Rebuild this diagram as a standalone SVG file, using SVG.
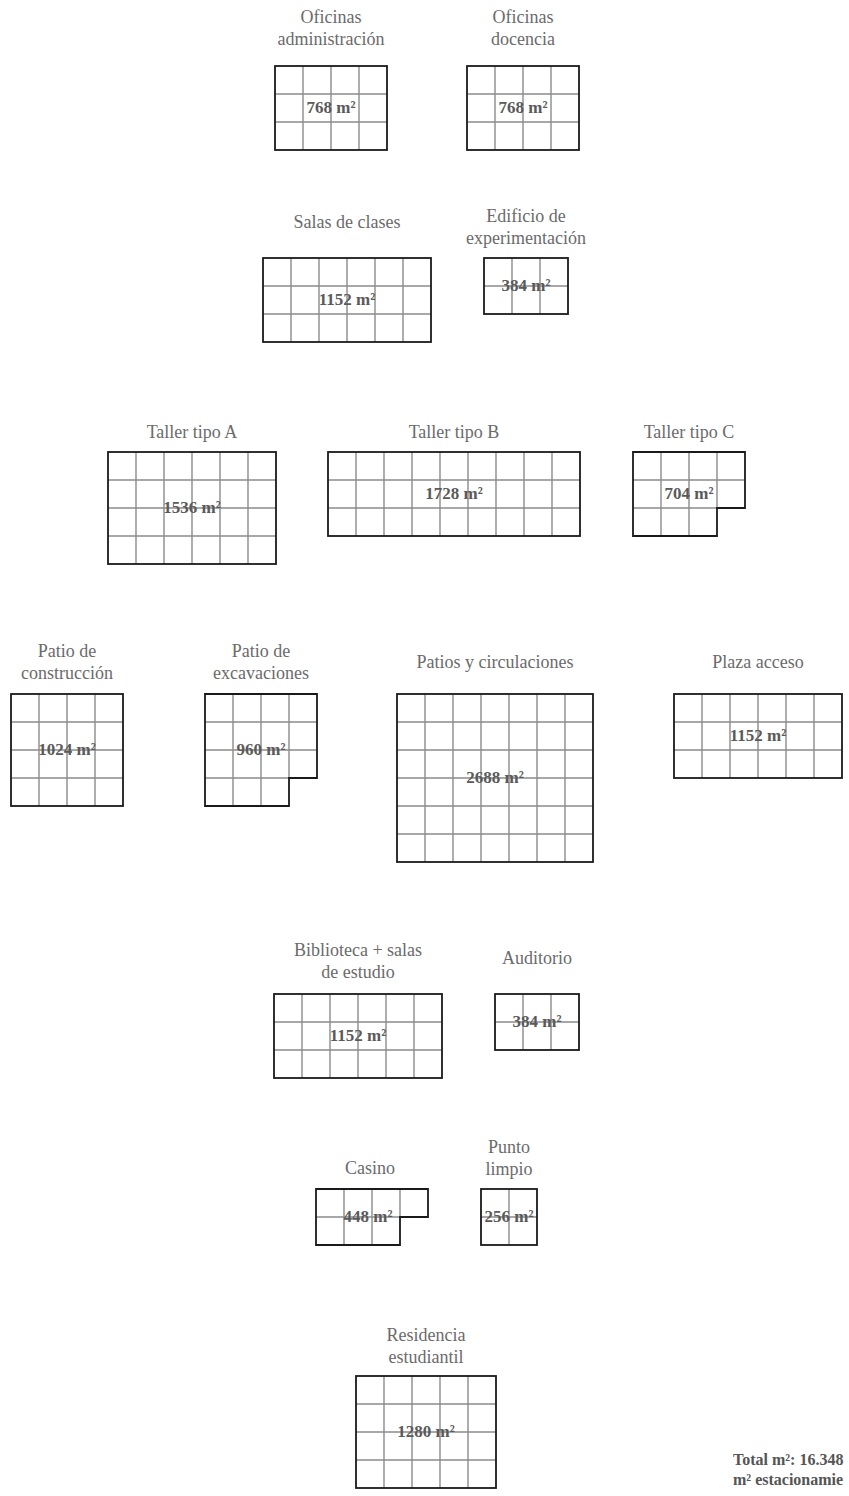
<svg xmlns="http://www.w3.org/2000/svg" width="849" height="1496" viewBox="0 0 849 1496">
<style>
.g{stroke:#8c8c8c;stroke-width:1.4;fill:none}
.o{stroke:#1a1a1a;stroke-width:1.8;fill:none}
.lbl{font-family:"Liberation Serif",serif;font-size:18px;fill:#6b6b6b;text-anchor:middle}
.area{font-family:"Liberation Serif",serif;font-size:17px;font-weight:bold;fill:#5a5a5a;text-anchor:middle}
.tot{font-family:"Liberation Serif",serif;font-size:16px;font-weight:bold;fill:#555}
</style>
<rect width="849" height="1496" fill="#fff"/>
<g id="connectors"></g>

<g id="oficinas-administracion">
<text class="lbl" x="331" y="23">Oficinas</text>
<text class="lbl" x="331" y="45">administración</text>
<path class="g" d="M303 66V150M331 66V150M359 66V150M275 94H387M275 122H387"/>
<rect class="o" x="275" y="66" width="112" height="84"/>
<text class="area" x="331" y="113">768 m²</text>
</g>

<g id="oficinas-docencia">
<text class="lbl" x="523" y="23">Oficinas</text>
<text class="lbl" x="523" y="45">docencia</text>
<path class="g" d="M495 66V150M523 66V150M551 66V150M467 94H579M467 122H579"/>
<rect class="o" x="467" y="66" width="112" height="84"/>
<text class="area" x="523" y="113">768 m²</text>
</g>

<g id="salas-de-clases">
<text class="lbl" x="347" y="228">Salas de clases</text>
<path class="g" d="M291 258V342M319 258V342M347 258V342M375 258V342M403 258V342M263 286H431M263 314H431"/>
<rect class="o" x="263" y="258" width="168" height="84"/>
<text class="area" x="347" y="305">1152 m²</text>
</g>

<g id="edificio-experimentacion">
<text class="lbl" x="526" y="222">Edificio de</text>
<text class="lbl" x="526" y="244">experimentación</text>
<path class="g" d="M512 258V314M540 258V314M484 286H568"/>
<rect class="o" x="484" y="258" width="84" height="56"/>
<text class="area" x="526" y="291">384 m²</text>
</g>

<g id="taller-tipo-a">
<text class="lbl" x="192" y="438">Taller tipo A</text>
<path class="g" d="M136 452V564M164 452V564M192 452V564M220 452V564M248 452V564M108 480H276M108 508H276M108 536H276"/>
<rect class="o" x="108" y="452" width="168" height="112"/>
<text class="area" x="192" y="513">1536 m²</text>
</g>

<g id="taller-tipo-b">
<text class="lbl" x="454" y="438">Taller tipo B</text>
<path class="g" d="M356 452V536M384 452V536M412 452V536M440 452V536M468 452V536M496 452V536M524 452V536M552 452V536M328 480H580M328 508H580"/>
<rect class="o" x="328" y="452" width="252" height="84"/>
<text class="area" x="454" y="499">1728 m²</text>
</g>

<g id="taller-tipo-c">
<text class="lbl" x="689" y="438">Taller tipo C</text>
<path class="g" d="M661 452V536M689 452V536M717 452V508M633 480H745M633 508H717"/>
<polygon class="o" points="633,452 745,452 745,508 717,508 717,536 633,536"/>
<text class="area" x="689" y="499">704 m²</text>
</g>

<g id="patio-construccion">
<text class="lbl" x="67" y="657">Patio de</text>
<text class="lbl" x="67" y="679">construcción</text>
<path class="g" d="M39 694V806M67 694V806M95 694V806M11 722H123M11 750H123M11 778H123"/>
<rect class="o" x="11" y="694" width="112" height="112"/>
<text class="area" x="67" y="755">1024 m²</text>
</g>

<g id="patio-excavaciones">
<text class="lbl" x="261" y="657">Patio de</text>
<text class="lbl" x="261" y="679">excavaciones</text>
<path class="g" d="M233 694V806M261 694V806M289 694V778M205 722H317M205 750H317M205 778H289"/>
<polygon class="o" points="205,694 317,694 317,778 289,778 289,806 205,806"/>
<text class="area" x="261" y="755">960 m²</text>
</g>

<g id="patios-circulaciones">
<text class="lbl" x="495" y="668">Patios y circulaciones</text>
<path class="g" d="M425 694V862M453 694V862M481 694V862M509 694V862M537 694V862M565 694V862M397 722H593M397 750H593M397 778H593M397 806H593M397 834H593"/>
<rect class="o" x="397" y="694" width="196" height="168"/>
<text class="area" x="495" y="783">2688 m²</text>
</g>

<g id="plaza-acceso">
<text class="lbl" x="758" y="668">Plaza acceso</text>
<path class="g" d="M702 694V778M730 694V778M758 694V778M786 694V778M814 694V778M674 722H842M674 750H842"/>
<rect class="o" x="674" y="694" width="168" height="84"/>
<text class="area" x="758" y="741">1152 m²</text>
</g>

<g id="biblioteca">
<text class="lbl" x="358" y="956">Biblioteca + salas</text>
<text class="lbl" x="358" y="978">de estudio</text>
<path class="g" d="M302 994V1078M330 994V1078M358 994V1078M386 994V1078M414 994V1078M274 1022H442M274 1050H442"/>
<rect class="o" x="274" y="994" width="168" height="84"/>
<text class="area" x="358" y="1041">1152 m²</text>
</g>

<g id="auditorio">
<text class="lbl" x="537" y="964">Auditorio</text>
<path class="g" d="M523 994V1050M551 994V1050M495 1022H579"/>
<rect class="o" x="495" y="994" width="84" height="56"/>
<text class="area" x="537" y="1027">384 m²</text>
</g>

<g id="casino">
<text class="lbl" x="370" y="1174">Casino</text>
<path class="g" d="M344 1189V1245M372 1189V1245M400 1189V1217M316 1217H400"/>
<polygon class="o" points="316,1189 428,1189 428,1217 400,1217 400,1245 316,1245"/>
<text class="area" x="368" y="1222">448 m²</text>
</g>

<g id="punto-limpio">
<text class="lbl" x="509" y="1153">Punto</text>
<text class="lbl" x="509" y="1175">limpio</text>
<path class="g" d="M509 1189V1245M481 1217H537"/>
<rect class="o" x="481" y="1189" width="56" height="56"/>
<text class="area" x="509" y="1222">256 m²</text>
</g>

<g id="residencia">
<text class="lbl" x="426" y="1341">Residencia</text>
<text class="lbl" x="426" y="1363">estudiantil</text>
<path class="g" d="M384 1376V1488M412 1376V1488M440 1376V1488M468 1376V1488M356 1404H496M356 1432H496M356 1460H496"/>
<rect class="o" x="356" y="1376" width="140" height="112"/>
<text class="area" x="426" y="1437">1280 m²</text>
</g>

<g id="total">
<text class="tot" x="733" y="1465">Total m²: 16.348</text>
<text class="tot" x="733" y="1485">m² estacionamie</text>
</g>
</svg>
